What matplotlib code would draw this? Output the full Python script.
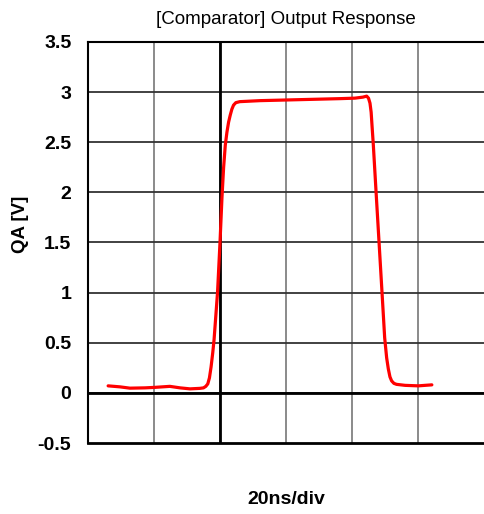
import matplotlib
matplotlib.use('Agg')
import matplotlib.pyplot as plt

plt.rcParams['font.family'] = ['Liberation Sans', 'DejaVu Sans']

# Output waveform (time in ns, voltage in V)
time_ns = [-33.9, -30.3, -27.3, -22.7, -19.7, -15.2, -12.1, -9.1, -6.1, -5.0,
           -4.3, -3.7, -3.2, -2.7, -2.2, -1.8, -0.75, 0.0, 0.6, 1.1, 1.6, 2.1,
           2.6, 3.1, 3.6, 4.1, 4.8, 6.0, 12.1, 18.2, 24.2, 30.3, 36.4, 40.9,
           43.3, 44.45, 45.0, 45.45, 45.8, 46.1, 46.45, 47.3, 48.2, 49.1, 49.9,
           50.5, 51.0, 51.5, 52.0, 52.7, 53.5, 56.1, 60.1, 62.1, 64.2]
qa_volts = [0.07, 0.06, 0.047, 0.05, 0.055, 0.065, 0.05, 0.04, 0.045, 0.05,
            0.065, 0.09, 0.15, 0.26, 0.40, 0.53, 1.0, 1.5, 1.95, 2.25, 2.47, 2.6,
            2.7, 2.77, 2.83, 2.87, 2.895, 2.905, 2.915, 2.92, 2.925, 2.93, 2.935,
            2.94, 2.95, 2.96, 2.94, 2.89, 2.80, 2.65, 2.48, 2.0, 1.5, 1.0, 0.55,
            0.35, 0.24, 0.16, 0.12, 0.095, 0.085, 0.075, 0.07, 0.075, 0.08]

x_ticks = [-40, -20, 0, 20, 40, 60, 80]
y_ticks = [-0.5, 0, 0.5, 1, 1.5, 2, 2.5, 3, 3.5]
y_labels = ['-0.5', '0', '0.5', '1', '1.5', '2', '2.5', '3', '3.5']

fig = plt.figure(figsize=(4.84, 5.14), dpi=100)
ax = fig.add_axes([88/484, 71/514, 396/484, 401/514])

ax.set_xlim(-40, 80)
ax.set_ylim(-0.5, 3.5)

# grid: light vertical divisions, darker horizontal ones
for xv in x_ticks[1:-1]:
    ax.axvline(xv, color='#777777', lw=1.2, zorder=1)
for yv in y_ticks[1:-1]:
    ax.axhline(yv, color='#333333', lw=1.3, zorder=1)
# zero axes
ax.axvline(0, color='black', lw=2, zorder=2)
ax.axhline(0, color='black', lw=2, zorder=2)

ax.plot(time_ns, qa_volts, color='#ff0000', lw=2.3, zorder=3,
        solid_capstyle='round', solid_joinstyle='round')

ax.set_xticks(x_ticks)
ax.set_xticklabels([])
ax.set_yticks(y_ticks)
ax.set_yticklabels(y_labels, fontsize=14, fontweight='bold')
ax.tick_params(axis='both', length=0)
ax.tick_params(axis='y', pad=12)

for side in ['left', 'top']:
    ax.spines[side].set_linewidth(1.5)
ax.spines['bottom'].set_linewidth(2)
ax.spines['right'].set_visible(False)

ax.set_title('[Comparator] Output Response', fontsize=13.5, pad=13)
ax.set_xlabel('20ns/div', fontsize=14, fontweight='bold')
ax.xaxis.set_label_coords(0.5, -0.12)
ax.set_ylabel('QA [V]', fontsize=13.5, fontweight='bold')
ax.yaxis.set_label_coords(-0.15, 0.544)

fig.savefig('out.png', dpi=100)
